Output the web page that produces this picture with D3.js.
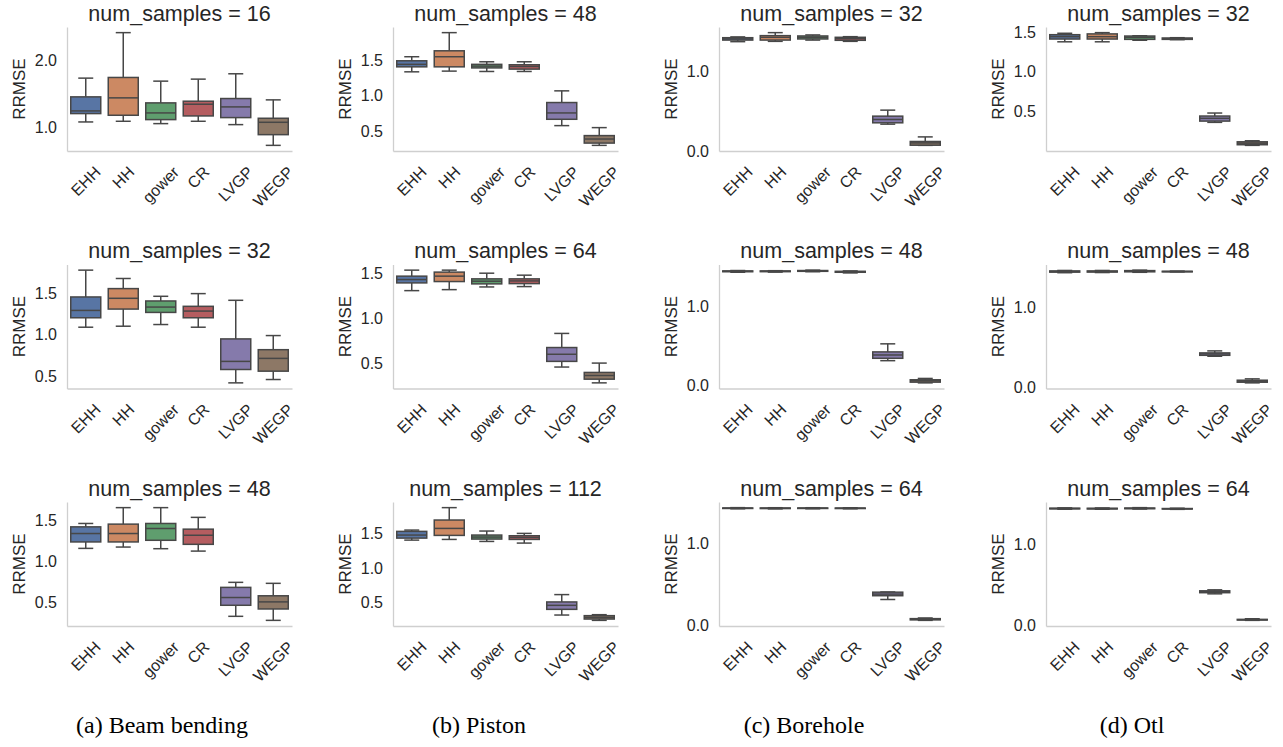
<!DOCTYPE html>
<html><head><meta charset="utf-8">
<script src="https://cdn.jsdelivr.net/npm/d3@7"></script>
<style>body{margin:0;background:#fff} svg{display:block}</style>
</head><body>
<svg id="chart" width="1283" height="747"></svg>
<script>
// ---------------- data ----------------
const categories = ["EHH", "HH", "gower", "CR", "LVGP", "WEGP"];
const boxColors = ["#5875a4", "#cc8963", "#5f9e6e", "#b55d60", "#857aab", "#8d7866"];
const captions = ["(a) Beam bending", "(b) Piston", "(c) Borehole", "(d) Otl"];
// each entry: [whisker low, Q1, median, Q3, whisker high]
const beam16 = [[1.075,1.20,1.24,1.45,1.73],[1.085,1.175,1.435,1.74,2.41],[1.05,1.11,1.21,1.36,1.685],[1.085,1.165,1.34,1.385,1.715],[1.035,1.14,1.30,1.425,1.795],[0.725,0.885,1.07,1.13,1.405]];
const beam32 = [[1.09,1.203,1.291,1.452,1.773],[1.102,1.307,1.436,1.552,1.673],[1.122,1.267,1.331,1.404,1.46],[1.09,1.203,1.283,1.34,1.492],[0.424,0.584,0.681,0.95,1.412],[0.464,0.564,0.717,0.821,0.99]];
const beam48 = [[1.157,1.235,1.337,1.418,1.459],[1.173,1.235,1.337,1.451,1.651],[1.153,1.255,1.398,1.459,1.651],[1.124,1.206,1.316,1.39,1.533],[0.333,0.467,0.561,0.684,0.745],[0.284,0.422,0.508,0.582,0.733]];
const piston48 = [[1.335,1.405,1.44,1.49,1.547],[1.345,1.405,1.547,1.63,1.885],[1.34,1.39,1.415,1.44,1.476],[1.34,1.373,1.41,1.434,1.476],[0.58,0.669,0.758,0.904,1.068],[0.303,0.335,0.392,0.44,0.552]];
const piston64 = [[1.313,1.399,1.436,1.474,1.541],[1.324,1.414,1.474,1.519,1.541],[1.354,1.388,1.418,1.444,1.507],[1.358,1.391,1.421,1.444,1.485],[0.463,0.526,0.605,0.68,0.837],[0.287,0.328,0.369,0.403,0.507]];
const piston112 = [[1.403,1.432,1.476,1.529,1.548],[1.413,1.471,1.572,1.693,1.872],[1.384,1.418,1.447,1.476,1.534],[1.36,1.413,1.442,1.466,1.5],[0.321,0.403,0.461,0.51,0.616],[0.244,0.263,0.287,0.312,0.326]];
const borehole32 = [[1.38,1.40,1.415,1.43,1.44],[1.384,1.40,1.435,1.456,1.494],[1.40,1.414,1.435,1.452,1.465],[1.384,1.397,1.418,1.435,1.443],[0.338,0.355,0.397,0.439,0.515],[0.07,0.072,0.101,0.119,0.177]];
const borehole48 = [[1.438,1.445,1.45,1.455,1.46],[1.44,1.446,1.45,1.455,1.458],[1.445,1.45,1.455,1.46,1.465],[1.43,1.438,1.445,1.45,1.455],[0.319,0.349,0.391,0.43,0.532],[0.038,0.047,0.064,0.077,0.094]];
const borehole64 = [[1.415,1.419,1.422,1.425,1.429],[1.414,1.418,1.421,1.425,1.428],[1.415,1.419,1.422,1.425,1.428],[1.415,1.419,1.422,1.424,1.427],[0.311,0.357,0.377,0.400,0.402],[0.057,0.063,0.07,0.078,0.086]];
const otl32 = [[1.38,1.415,1.445,1.47,1.488],[1.38,1.415,1.445,1.48,1.496],[1.40,1.411,1.437,1.453,1.457],[1.407,1.411,1.42,1.428,1.432],[0.361,0.377,0.412,0.441,0.479],[0.07,0.078,0.098,0.115,0.128]];
const otl48 = [[1.43,1.437,1.445,1.452,1.458],[1.432,1.438,1.445,1.452,1.458],[1.435,1.441,1.449,1.456,1.462],[1.44,1.443,1.445,1.447,1.45],[0.387,0.399,0.416,0.429,0.454],[0.055,0.063,0.076,0.088,0.105]];
const otl64 = [[1.428,1.432,1.436,1.44,1.444],[1.427,1.431,1.435,1.439,1.443],[1.43,1.434,1.438,1.442,1.447],[1.426,1.43,1.433,1.436,1.44],[0.391,0.405,0.416,0.428,0.44],[0.066,0.07,0.074,0.078,0.086]];

const sampleCounts = [[16, 32, 48], [48, 64, 112], [32, 48, 64], [32, 48, 64]];
const panelData = [[beam16, beam32, beam48], [piston48, piston64, piston112], [borehole32, borehole48, borehole64], [otl32, otl48, otl64]];
const ticksA = [[1.0, 2.0], [0.5, 1.0, 1.5], [0.5, 1.0, 1.5]];
const ticksB = [[0.5, 1.0, 1.5], [0.5, 1.0, 1.5], [0.5, 1.0, 1.5]];
const ticksC = [[0.0, 1.0], [0.0, 1.0], [0.0, 1.0]];
const ticksD = [[0.5, 1.0, 1.5], [0.0, 1.0], [0.0, 1.0]];
const panelTicks = [ticksA, ticksB, ticksC, ticksD];

// ---------------- layout ----------------
const colLeft = [67, 393, 719, 1046];
const rowTop = [27, 264.5, 502];
const PW = 225, PH = 124;
const captionX = [162, 479, 804, 1132];
const captionY = 733;
const textColor = "#262626";
const lineColor = "#474747";
const spineColor = "#cfcfcf";
const sansFont = "'Liberation Sans', Arial, sans-serif";

const svg = d3.select("#chart");

for (let c = 0; c < 4; c++) {
  for (let r = 0; r < 3; r++) {
    const data = panelData[c][r];
    const g = svg.append("g").attr("transform", `translate(${colLeft[c]},${rowTop[r]})`);
    const x = d3.scaleBand().domain(categories).range([0, PW]).padding(0);
    const lo = d3.min(data, d => d[0]), hi = d3.max(data, d => d[4]);
    const pad = (hi - lo) * 0.05;
    const y = d3.scaleLinear().domain([lo - pad, hi + pad]).range([PH, 0]);

    // y axis
    const yAxis = g.append("g").call(
      d3.axisLeft(y).tickValues(panelTicks[c][r]).tickSize(0).tickPadding(10).tickFormat(d3.format(".1f"))
    );
    yAxis.select(".domain").attr("stroke", spineColor).attr("stroke-width", 1.3);
    yAxis.selectAll("text").attr("fill", textColor).style("font-family", sansFont).style("font-size", "16px");

    // bottom spine
    const xAxis = g.append("g").attr("transform", `translate(0,${PH})`).call(
      d3.axisBottom(x).tickSize(0).tickFormat("")
    );
    xAxis.select(".domain").attr("stroke", spineColor).attr("stroke-width", 1.3);

    // x labels rotated
    const fs = 16;
    categories.forEach(cat => {
      const t = g.append("text")
        .text(cat)
        .attr("fill", textColor)
        .style("font-family", sansFont)
        .style("font-size", fs + "px")
        .attr("text-anchor", "middle")
        .attr("dominant-baseline", "central");
      const w = t.node().getComputedTextLength();
      const cx = x(cat) + x.bandwidth() / 2;
      const cy = PH + 12 + (w + fs * 1.1) * 0.3536;
      t.attr("transform", `translate(${cx},${cy}) rotate(-45)`);
    });

    // y label
    g.append("text")
      .text("RRMSE")
      .attr("fill", textColor)
      .style("font-family", sansFont)
      .style("font-size", "17px")
      .attr("text-anchor", "middle")
      .attr("dominant-baseline", "central")
      .attr("transform", `translate(-48,${PH / 2}) rotate(-90)`);

    // title
    g.append("text")
      .text(`num_samples = ${sampleCounts[c][r]}`)
      .attr("fill", textColor)
      .style("font-family", sansFont)
      .style("font-size", "21.5px")
      .attr("text-anchor", "middle")
      .attr("x", PW / 2)
      .attr("y", -6.5);

    // boxes
    const bw = x.bandwidth() * 0.8;
    const cw = bw / 2;
    data.forEach((d, i) => {
      const cat = categories[i];
      const cx = x(cat) + x.bandwidth() / 2;
      const bg = g.append("g");
      // whiskers
      bg.append("line").attr("x1", cx).attr("x2", cx).attr("y1", y(d[3])).attr("y2", y(d[4]))
        .attr("stroke", lineColor).attr("stroke-width", 1.5);
      bg.append("line").attr("x1", cx).attr("x2", cx).attr("y1", y(d[1])).attr("y2", y(d[0]))
        .attr("stroke", lineColor).attr("stroke-width", 1.5);
      // caps
      bg.append("line").attr("x1", cx - cw / 2).attr("x2", cx + cw / 2).attr("y1", y(d[4])).attr("y2", y(d[4]))
        .attr("stroke", lineColor).attr("stroke-width", 1.5);
      bg.append("line").attr("x1", cx - cw / 2).attr("x2", cx + cw / 2).attr("y1", y(d[0])).attr("y2", y(d[0]))
        .attr("stroke", lineColor).attr("stroke-width", 1.5);
      // box
      bg.append("rect").attr("x", cx - bw / 2).attr("width", bw)
        .attr("y", y(d[3])).attr("height", Math.max(0.5, y(d[1]) - y(d[3])))
        .attr("fill", boxColors[i]).attr("stroke", lineColor).attr("stroke-width", 1.5);
      // median
      bg.append("line").attr("x1", cx - bw / 2).attr("x2", cx + bw / 2).attr("y1", y(d[2])).attr("y2", y(d[2]))
        .attr("stroke", lineColor).attr("stroke-width", 1.5);
    });
  }
  // caption
  svg.append("text")
    .text(captions[c])
    .attr("x", captionX[c]).attr("y", captionY)
    .attr("text-anchor", "middle")
    .attr("fill", "#000")
    .style("font-family", "'Liberation Serif', 'Times New Roman', serif")
    .style("font-size", "24px");
}
</script>
</body></html>
